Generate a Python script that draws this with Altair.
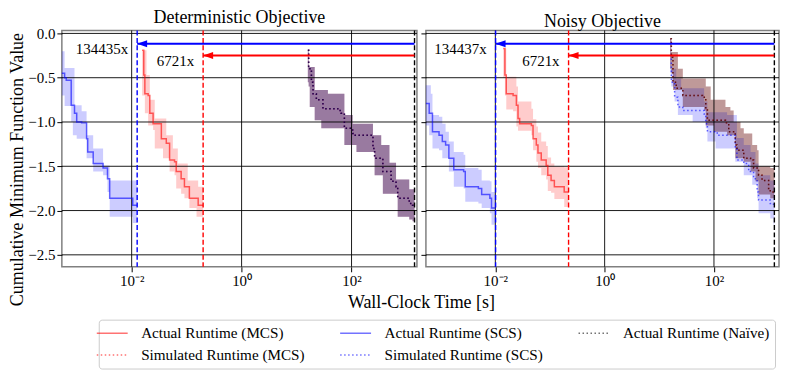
import altair as alt
import pandas as pd

FONT = "Liberation Serif"

# ---------------- data ----------------
# times are log10(wall-clock seconds)
# Deterministic objective
DET_SCS_LOGT = [-3.35, -3.22, -3.19, -3.10, -3.07, -3.04, -3.00, -2.91, -2.85, -2.82, -2.80, -2.70, -2.52, -2.44, -2.40, -1.98, -1.90]
DET_SCS_MEAN = [-0.45, -0.50, -0.53, -0.81, -0.81, -0.90, -1.00, -1.01, -1.01, -1.19, -1.34, -1.47, -1.52, -1.64, -1.86, -1.94, -1.94]
DET_SCS_HI = [-0.20, -0.39, -0.39, -0.39, -0.39, -0.81, -0.81, -0.88, -0.88, -1.15, -1.15, -1.30, -1.49, -1.49, -1.66, -1.66, -1.66]
DET_SCS_LO = [-0.70, -0.82, -0.82, -1.00, -1.15, -1.15, -1.19, -1.19, -1.19, -1.41, -1.41, -1.56, -1.60, -1.79, -2.07, -2.14, -2.14]

DET_MCS_LOGT = [-1.81, -1.78, -1.76, -1.73, -1.70, -1.67, -1.61, -1.58, -1.46, -1.43, -1.37, -1.31, -1.25, -1.22, -1.19, -1.16, -1.10, -1.04, -0.98, -0.95, -0.82, -0.79, -0.70]
DET_MCS_MEAN = [-0.19, -0.47, -0.68, -0.68, -0.70, -0.90, -1.02, -1.02, -1.19, -1.19, -1.24, -1.43, -1.43, -1.45, -1.56, -1.56, -1.64, -1.73, -1.73, -1.86, -1.86, -1.94, -1.94]
DET_MCS_HI = [-0.19, -0.19, -0.19, -0.47, -0.47, -0.75, -0.75, -0.96, -0.96, -0.96, -1.15, -1.15, -1.30, -1.30, -1.30, -1.47, -1.47, -1.47, -1.66, -1.66, -1.66, -1.73, -1.73]
DET_MCS_LO = [-0.70, -0.70, -0.90, -0.90, -1.04, -1.04, -1.09, -1.30, -1.30, -1.41, -1.41, -1.56, -1.56, -1.60, -1.75, -1.75, -1.81, -1.86, -1.86, -1.97, -2.07, -2.07, -2.15]

DET_NAIVE_LOGT = [1.205, 1.22, 1.24, 1.27, 1.30, 1.33, 1.36, 1.45, 1.48, 1.57, 1.75, 1.81, 1.87, 2.02, 2.05, 2.09, 2.33, 2.39, 2.42, 2.54, 2.57, 2.69, 2.72, 2.81, 2.84, 3.05, 3.11, 3.146]
DET_NAIVE_MEAN = [-0.19, -0.40, -0.40, -0.55, -0.68, -0.68, -0.75, -0.75, -0.85, -0.85, -0.87, -0.90, -1.07, -1.13, -1.15, -1.15, -1.15, -1.30, -1.41, -1.41, -1.56, -1.56, -1.67, -1.73, -1.86, -1.92, -1.94, -1.94]
DET_NAIVE_LO = [-0.55, -0.60, -0.83, -0.83, -0.83, -0.98, -0.98, -1.07, -1.07, -1.07, -1.07, -1.07, -1.26, -1.26, -1.26, -1.34, -1.34, -1.34, -1.60, -1.60, -1.81, -1.81, -1.81, -1.81, -2.07, -2.10, -2.12, -2.12]
DET_NAIVE_HI = [-0.19, -0.38, -0.38, -0.38, -0.38, -0.64, -0.64, -0.64, -0.64, -0.68, -0.68, -0.68, -0.92, -1.02, -1.02, -1.02, -1.02, -1.15, -1.15, -1.26, -1.26, -1.46, -1.46, -1.65, -1.65, -1.76, -1.76, -1.76]

# Noisy objective
NOI_SCS_LOGT = [-3.35, -3.21, -3.18, -3.15, -3.03, -2.97, -2.91, -2.85, -2.76, -2.58, -2.55, -2.31, -2.25, -2.10, -2.07, -1.995]
NOI_SCS_MEAN = [-0.79, -0.90, -0.90, -1.11, -1.15, -1.22, -1.26, -1.41, -1.54, -1.56, -1.73, -1.75, -1.82, -1.86, -1.97, -1.97]
NOI_SCS_HI = [-0.585, -0.585, -0.68, -0.92, -0.94, -1.02, -1.11, -1.22, -1.34, -1.37, -1.52, -1.54, -1.66, -1.67, -1.79, -1.79]
NOI_SCS_LO = [-1.04, -1.15, -1.15, -1.30, -1.32, -1.41, -1.41, -1.56, -1.73, -1.75, -1.90, -1.92, -1.97, -2.03, -2.16, -2.16]

NOI_MCS_LOGT = [-1.855, -1.825, -1.80, -1.675, -1.615, -1.585, -1.555, -1.34, -1.31, -1.25, -1.22, -1.16, -1.07, -1.04, -0.98, -0.92, -0.74, -0.66]
NOI_MCS_MEAN = [-0.17, -0.47, -0.68, -0.70, -0.81, -0.96, -1.02, -1.04, -1.19, -1.26, -1.35, -1.43, -1.49, -1.60, -1.66, -1.73, -1.79, -1.79]
NOI_MCS_HI = [-0.17, -0.17, -0.49, -0.49, -0.60, -0.77, -0.77, -0.85, -0.97, -1.05, -1.12, -1.22, -1.27, -1.40, -1.47, -1.50, -1.51, -1.51]
NOI_MCS_LO = [-0.50, -0.70, -0.86, -0.88, -1.05, -1.10, -1.10, -1.15, -1.32, -1.45, -1.52, -1.60, -1.65, -1.78, -1.80, -1.87, -1.96, -1.96]

NOI_SIMMCS_LOGT = [1.20, 1.22, 1.25, 1.31, 1.34, 1.43, 1.79, 1.82, 1.85, 1.88, 1.94, 2.00, 2.21, 2.24, 2.27, 2.30, 2.36, 2.39, 2.42, 2.485, 2.545, 2.67, 2.70, 2.725, 2.76, 2.79, 2.816, 2.88, 3.00, 3.03, 3.105]
NOI_SIMMCS_MEAN = [-0.06, -0.27, -0.55, -0.62, -0.62, -0.70, -0.72, -0.72, -0.85, -0.98, -0.98, -0.98, -1.01, -1.01, -1.11, -1.11, -1.11, -1.26, -1.32, -1.32, -1.41, -1.43, -1.43, -1.52, -1.52, -1.52, -1.60, -1.66, -1.75, -1.79, -1.79]
NOI_SIMMCS_HI = [-0.06, -0.21, -0.21, -0.21, -0.40, -0.51, -0.51, -0.51, -0.60, -0.60, -0.75, -0.75, -0.83, -0.83, -0.83, -0.87, -1.00, -1.00, -1.00, -1.07, -1.13, -1.13, -1.26, -1.26, -1.26, -1.32, -1.50, -1.50, -1.50, -1.52, -1.62]
NOI_SIMMCS_LO = [-0.40, -0.45, -0.64, -0.64, -0.64, -0.83, -0.83, -0.87, -1.04, -1.04, -1.04, -1.11, -1.11, -1.15, -1.15, -1.15, -1.15, -1.41, -1.41, -1.41, -1.45, -1.56, -1.56, -1.56, -1.67, -1.67, -1.82, -1.82, -1.82, -1.86, -1.90]

NOI_SIMSCS_LOGT = [1.20, 1.22, 1.28, 1.31, 1.34, 1.40, 1.43, 1.61, 1.82, 1.85, 1.88, 2.03, 2.06, 2.24, 2.39, 2.42, 2.545, 2.635, 2.67, 2.70, 2.725, 2.76, 2.79, 2.816, 3.03, 3.09, 3.105]
NOI_SIMSCS_MEAN = [-0.25, -0.55, -0.72, -0.72, -0.83, -0.83, -0.87, -0.87, -0.91, -1.02, -1.11, -1.11, -1.15, -1.15, -1.30, -1.43, -1.47, -1.56, -1.56, -1.56, -1.64, -1.64, -1.79, -1.88, -1.92, -1.96, -1.96]
NOI_SIMSCS_HI = [-0.06, -0.40, -0.40, -0.51, -0.51, -0.62, -0.62, -0.62, -0.77, -0.77, -0.89, -0.89, -0.89, -0.92, -0.92, -1.18, -1.26, -1.26, -1.34, -1.34, -1.34, -1.47, -1.47, -1.60, -1.66, -1.66, -1.66]
NOI_SIMSCS_LO = [-0.45, -0.60, -0.77, -0.77, -0.92, -0.92, -0.92, -1.00, -1.00, -1.07, -1.22, -1.30, -1.30, -1.30, -1.45, -1.45, -1.60, -1.60, -1.60, -1.71, -1.71, -1.71, -1.86, -2.03, -2.09, -2.16, -2.16]

# total runtimes (log10 s) marked by dashed vertical lines
DET_RUNTIME_LOGT = {"SCS": -1.90, "MCS": -0.70, "Naive": 3.146}
NOI_RUNTIME_LOGT = {"SCS": -1.995, "MCS": -0.66, "Naive": 3.105}

# speed-up annotations
DET_SPEEDUP = {"SCS": "134435x", "MCS": "6721x"}
NOI_SPEEDUP = {"SCS": "134437x", "MCS": "6721x"}
ARROW_Y = {"SCS": -0.116, "MCS": -0.25}
LABEL_Y = {"SCS": -0.175, "MCS": -0.315}

PANEL_TITLES = ["Deterministic Objective", "Noisy Objective"]
X_TICKS = [0.01, 1, 100]
Y_TICKS = [0.0, -0.5, -1.0, -1.5, -2.0, -2.5]
X_DOMAIN_LOG = [-3.27, 3.19]
Y_DOMAIN = [-2.635, 0.034]

A_MCS = "Actual Runtime (MCS)"
S_MCS = "Simulated Runtime (MCS)"
A_SCS = "Actual Runtime (SCS)"
S_SCS = "Simulated Runtime (SCS)"
A_NAIVE = "Actual Runtime (Naïve)"
# legend order (filled column by column)
SERIES = [A_MCS, S_MCS, A_SCS, S_SCS, A_NAIVE]

# ---------------- styles ----------------
DOT = [1.5, 2.5]
LINE_STYLE = {A_MCS: ("#ff0000", [1, 0]), S_MCS: ("#ff0000", DOT),
              A_SCS: ("#0000ff", [1, 0]), S_SCS: ("#0000ff", DOT),
              A_NAIVE: ("#000000", DOT)}
BAND_STYLE = {A_MCS: ("#ff0000", 0.2), S_MCS: ("#ff0000", 0.2),
              A_SCS: ("#0000ff", 0.2), S_SCS: ("#0000ff", 0.2),
              A_NAIVE: ("#000000", 0.25)}
KINDS = ["MCS", "SCS", "Naive"]
KIND_COLORS = ["#ff0000", "#0000ff", "#000000"]


def frame(panel, series, logt, mean, lo, hi):
    return pd.DataFrame({"panel": panel, "series": series,
                         "t": [10 ** v for v in logt],
                         "mean": mean, "lo": lo, "hi": hi})


# drawing order: actual MCS, actual SCS, simulated MCS, simulated SCS, naive
det_parts = [
    frame("det", A_MCS, DET_MCS_LOGT, DET_MCS_MEAN, DET_MCS_LO, DET_MCS_HI),
    frame("det", A_SCS, DET_SCS_LOGT, DET_SCS_MEAN, DET_SCS_LO, DET_SCS_HI),
    frame("det", S_MCS, DET_NAIVE_LOGT, DET_NAIVE_MEAN, DET_NAIVE_LO, DET_NAIVE_HI),
    frame("det", S_SCS, DET_NAIVE_LOGT, DET_NAIVE_MEAN, DET_NAIVE_LO, DET_NAIVE_HI),
    frame("det", A_NAIVE, DET_NAIVE_LOGT, DET_NAIVE_MEAN, DET_NAIVE_LO, DET_NAIVE_HI),
]
noi_parts = [
    frame("noi", A_MCS, NOI_MCS_LOGT, NOI_MCS_MEAN, NOI_MCS_LO, NOI_MCS_HI),
    frame("noi", A_SCS, NOI_SCS_LOGT, NOI_SCS_MEAN, NOI_SCS_LO, NOI_SCS_HI),
    frame("noi", S_MCS, NOI_SIMMCS_LOGT, NOI_SIMMCS_MEAN, NOI_SIMMCS_LO, NOI_SIMMCS_HI),
    frame("noi", S_SCS, NOI_SIMSCS_LOGT, NOI_SIMSCS_MEAN, NOI_SIMSCS_LO, NOI_SIMSCS_HI),
    frame("noi", A_NAIVE, NOI_SIMMCS_LOGT, NOI_SIMMCS_MEAN, NOI_SIMMCS_LO, NOI_SIMMCS_HI),
]

XSCALE = alt.Scale(type="log", domain=[10 ** X_DOMAIN_LOG[0], 10 ** X_DOMAIN_LOG[1]], nice=False)
YSCALE = alt.Scale(domain=Y_DOMAIN, nice=False, zero=False)

LEGEND = alt.Legend(
    title=None, orient="none", legendX=37, legendY=290, columns=3, gridAlign="each",
    symbolType="M-2,0L2,0", symbolSize=240, symbolOffset=0, symbolStrokeWidth=1.5,
    symbolOpacity=0.55,
    labelFont=FONT, labelFontSize=15.2, labelColor="black", labelOffset=20.5, labelLimit=0,
    columnPadding=32, rowPadding=5, padding=5,
    strokeColor="#cccccc", fillColor="white", cornerRadius=3,
)


def make_axes(first):
    xa = dict(values=X_TICKS,
              labelExpr="datum.value < 0.1 ? '10\u207b\u00b2' : (datum.value < 10 ? '10\u2070' : '10\u00b2')",
              grid=False, domain=False, tickSize=5, tickColor="black", tickWidth=1,
              labelFont=FONT, labelFontSize=15, labelColor="black", labelPadding=2)
    ya = dict(values=Y_TICKS, format=".1f", grid=False, domain=False, tickSize=5,
              tickColor="black", tickWidth=1, labelFont=FONT, labelFontSize=15,
              labelColor="black", labelPadding=2)
    if first:
        xa.update(title="Wall-Clock Time [s]", titleFont=FONT, titleFontSize=18,
                  titleFontWeight="normal", titleColor="black", titleX=360, titlePadding=5)
        ya.update(title="Cumulative Minimum Function Value", titleFont=FONT, titleFontSize=18,
                  titleFontWeight="normal", titleColor="black", titlePadding=1, titleY=139)
    else:
        xa.update(title=None)
        ya.update(title=None, labels=False)
    return alt.Axis(**xa), alt.Axis(**ya)


def panel(parts, runtimes_log, speedups, title, first, width):
    xa, ya = make_axes(first)
    X = lambda f: alt.X(f, type="quantitative", scale=XSCALE, axis=xa)
    Y = lambda f: alt.Y(f, type="quantitative", scale=YSCALE, axis=ya)

    layers = []
    # bands
    for part in parts:
        s = part["series"].iloc[0]
        col, op = BAND_STYLE[s]
        layers.append(
            alt.Chart(part).mark_area(interpolate="step-after", clip=True, color=col, opacity=op)
            .encode(x=X("t"), y=Y("lo"), y2="hi")
        )
    # grid
    gx = pd.DataFrame({"t": X_TICKS})
    gy = pd.DataFrame({"v": Y_TICKS})
    layers.append(alt.Chart(gx).mark_rule(color="black", strokeWidth=0.9).encode(x=X("t")))
    layers.append(alt.Chart(gy).mark_rule(color="black", strokeWidth=0.9).encode(y=Y("v")))
    # lines
    lines = pd.concat(parts, ignore_index=True)
    layers.append(
        alt.Chart(lines).mark_line(interpolate="step-after", clip=True, strokeWidth=1.5, opacity=0.6)
        .encode(
            x=X("t"), y=Y("mean"),
            color=alt.Color("series:N", scale=alt.Scale(domain=SERIES, range=[LINE_STYLE[s][0] for s in SERIES]), legend=LEGEND),
            strokeDash=alt.StrokeDash("series:N", scale=alt.Scale(domain=SERIES, range=[LINE_STYLE[s][1] for s in SERIES]), legend=LEGEND),
        )
    )
    # runtime reference lines
    ref = pd.DataFrame({"kind": KINDS, "t": [10 ** runtimes_log[k] for k in KINDS]})
    layers.append(
        alt.Chart(ref).mark_rule(strokeDash=[5, 2.5], strokeWidth=1.4)
        .encode(x=X("t"), stroke=alt.Stroke("kind:N", scale=alt.Scale(domain=KINDS, range=KIND_COLORS), legend=None))
    )
    # speed-up arrows
    arr = pd.DataFrame({
        "kind": ["SCS", "MCS"],
        "t": [10 ** runtimes_log["Naive"]] * 2,
        "t2": [10 ** runtimes_log["SCS"], 10 ** runtimes_log["MCS"]],
        "y": [ARROW_Y["SCS"], ARROW_Y["MCS"]],
        "label": [speedups["SCS"], speedups["MCS"]],
        "ly": [LABEL_Y["SCS"], LABEL_Y["MCS"]],
    })
    layers.append(
        alt.Chart(arr).mark_rule(strokeWidth=2)
        .encode(x=X("t"), x2="t2", y=Y("y"),
                stroke=alt.Stroke("kind:N", scale=alt.Scale(domain=KINDS, range=KIND_COLORS), legend=None))
    )
    layers.append(
        alt.Chart(arr).mark_point(shape="M-1,0L1,-0.7L1,0.7Z", filled=True, size=100, opacity=1, xOffset=5)
        .encode(x=X("t2"), y=Y("y"),
                fill=alt.Fill("kind:N", scale=alt.Scale(domain=KINDS, range=KIND_COLORS), legend=None))
    )
    layers.append(
        alt.Chart(arr).mark_text(align="right", baseline="middle", dx=-9, font=FONT, fontSize=15, color="black")
        .encode(x=X("t2"), y=Y("ly"), text="label:N")
    )
    return alt.layer(*layers).properties(
        width=width, height=237,
        title=alt.TitleParams(title, font=FONT, fontSize=18, fontWeight="normal", color="black", offset=-1),
    )


left = panel(det_parts, DET_RUNTIME_LOGT, DET_SPEEDUP, PANEL_TITLES[0], True, 356)
right = panel(noi_parts, NOI_RUNTIME_LOGT, NOI_SPEEDUP, PANEL_TITLES[1], False, 354)

chart = alt.hconcat(left, right, spacing=9, bounds="flush").properties(padding=0).configure_view(
    stroke="#808080", strokeWidth=1.5
)

chart.save("out.html", embed_options={"renderer": "svg", "actions": False})
